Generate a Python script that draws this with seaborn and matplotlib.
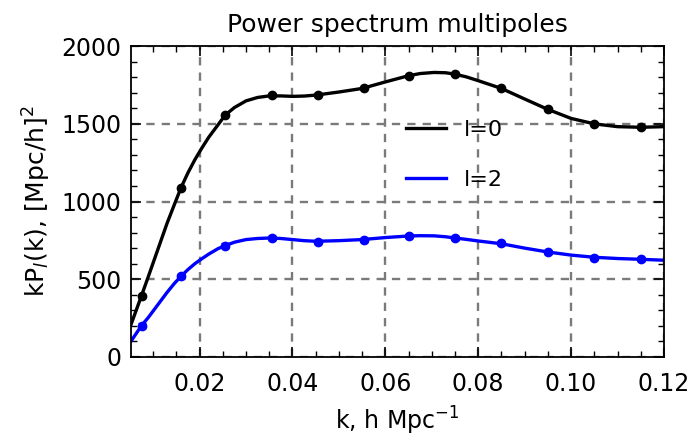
import matplotlib
matplotlib.use("Agg")
import matplotlib.pyplot as plt
import seaborn as sns
import numpy as np
import pandas as pd
from matplotlib.ticker import MultipleLocator

# measured points
k_pts = [0.0075, 0.016, 0.0255, 0.0355, 0.0455, 0.0553, 0.065, 0.075, 0.085, 0.095, 0.105, 0.115]
p0_pts = [394, 1089, 1556, 1685, 1685, 1728, 1811, 1822, 1728, 1593, 1498, 1477]
p2_pts = [201, 519, 716, 765, 742, 754, 778, 765, 731, 673, 639, 628]
p2_err = [14, 14, 14, 14, 12, 12, 12, 12, 10, 10, 10, 10]

# model curves
k_curve = [0.0052, 0.0075, 0.009, 0.011, 0.013, 0.0145, 0.016, 0.0175, 0.019, 0.0205, 0.022,
           0.024, 0.0255, 0.0275, 0.03, 0.0325, 0.035, 0.0375, 0.04, 0.0425, 0.045, 0.05,
           0.055, 0.06, 0.065, 0.0675, 0.0705, 0.073, 0.075, 0.0775, 0.08, 0.085, 0.09,
           0.095, 0.10, 0.105, 0.11, 0.115, 0.12]
p0_curve = [205, 394, 520, 690, 860, 975, 1089, 1185, 1270, 1345, 1415,
            1495, 1556, 1605, 1648, 1670, 1680, 1680, 1677, 1679, 1685, 1705,
            1728, 1770, 1810, 1824, 1831, 1829, 1820, 1802, 1778, 1728, 1660,
            1593, 1535, 1500, 1482, 1478, 1482]
p2_curve = [99, 201, 255, 335, 415, 470, 519, 562, 600, 632, 662,
            697, 716, 738, 755, 762, 765, 762, 755, 748, 744, 748,
            755, 768, 778, 780, 779, 773, 765, 756, 746, 728, 700,
            675, 655, 641, 633, 628, 622]

plt.rcParams['font.family'] = ['DejaVu Sans']
plt.rcParams['mathtext.fontset'] = 'dejavusans'

fig = plt.figure(figsize=(6.96, 4.4), dpi=100)
ax = fig.add_axes([0.188, 0.189, 0.766, 0.706])

curves = pd.DataFrame({'k': k_curve * 2, 'P': p0_curve + p2_curve,
                       'l': ['l=0'] * len(k_curve) + ['l=2'] * len(k_curve)})
sns.lineplot(data=curves, x='k', y='P', hue='l', palette=['black', 'blue'], linewidth=2.4, ax=ax)

ax.errorbar(k_pts, p0_pts, fmt='o', color='black', ms=6, zorder=5)
ax.errorbar(k_pts, p2_pts, yerr=p2_err, fmt='o', color='blue', ms=6, capsize=3, elinewidth=1.6, zorder=5)

ax.set_xlim(0.0052, 0.12)
ax.set_ylim(0, 2000)
ax.xaxis.set_major_locator(MultipleLocator(0.02))
ax.xaxis.set_minor_locator(MultipleLocator(0.005))
ax.yaxis.set_major_locator(MultipleLocator(500))
ax.yaxis.set_minor_locator(MultipleLocator(100))
ax.set_xticks([0.02, 0.04, 0.06, 0.08, 0.10, 0.12])
ax.set_xticklabels(['0.02', '0.04', '0.06', '0.08', '0.10', '0.12'])
ax.tick_params(which='both', direction='in', top=True, right=True, bottom=True, left=True,
               labelsize=17, color='black', labelcolor='black')
ax.tick_params(which='major', length=7, width=1.2)
ax.tick_params(axis='x', which='major', pad=11)
ax.tick_params(axis='y', which='major', pad=7)
ax.tick_params(which='minor', length=4, width=1)
ax.grid(True, which='major', ls='--', color='#7a7a7a', lw=1.7, dashes=(3.5, 3))
for s in ax.spines.values():
    s.set_linewidth(1.3)
    s.set_color('black')

ax.set_title('Power spectrum multipoles', fontsize=18, pad=10)
ax.set_xlabel(r'k, h Mpc$^{-1}$', fontsize=17, labelpad=6)
ax.set_ylabel(r'kP$_{\mathit{l}}$(k), [Mpc/h]$^2$', fontsize=18, labelpad=6)

leg = ax.legend(loc='upper left', bbox_to_anchor=(0.478, 0.826), frameon=False, fontsize=16,
                handlelength=1.8, labelspacing=1.35)
for h in leg.get_lines():
    h.set_linewidth(2.4)

fig.savefig('out.png', dpi=100)
